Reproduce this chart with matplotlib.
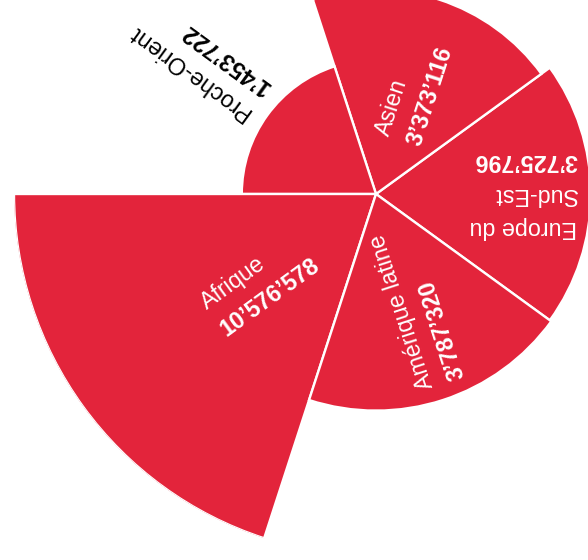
import numpy as np
import matplotlib
matplotlib.use('Agg')
import matplotlib.pyplot as plt

regions = ["Europe du\nSud-Est", "Asien", "Proche-Orient", "Afrique", "Amérique latine"]
values = [3725796, 3373116, 1453722, 10576578, 3787320]
value_labels = ["3’725’796", "3’373’116", "1’453’722", "10’576’578", "3’787’320"]

RED = "#E3243B"
W, H, DPI = 588, 560, 100
cx, cy = 376, 194   # centre in px (from top-left)
R = 362             # px radius of the largest sector

fig = plt.figure(figsize=(W / DPI, H / DPI), dpi=DPI)
ax = fig.add_axes([(cx - R) / W, (H - cy - R) / H, 2 * R / W, 2 * R / H], projection='polar')
n = len(values)
width = 2 * np.pi / n
theta = np.arange(n) * width
radii = np.sqrt(np.array(values, dtype=float))
ax.bar(theta, radii, width=width, bottom=0, color=RED, edgecolor='white',
       linewidth=1.7, align='center')
ax.set_ylim(0, radii.max())
ax.set_axis_off()

rotations = [180, 72, 144, 36, 108]
label_r = [201, 58, 149, 205, 201]
colors = ['white', 'white', 'black', 'white', 'white']
spacing = 33
fs = 23.2 * 72 / DPI

for i in range(n):
    lines = [(l, 'normal') for l in regions[i].split('\n')] + [(value_labels[i], 'bold')]
    m = len(lines)
    shift = -5 if m == 2 else 0
    up = np.deg2rad(rotations[i]) + np.pi / 2
    r_data = label_r[i] / R * radii.max()
    for j, (txt, wt) in enumerate(lines):
        o = ((m - 1) / 2 - j) * spacing + shift
        dx = o * np.cos(up) * 72 / DPI
        dy = o * np.sin(up) * 72 / DPI
        ax.annotate(txt, xy=(theta[i], r_data), xytext=(dx, dy),
                    textcoords='offset points', rotation=rotations[i],
                    rotation_mode='anchor', ha='left', va='center',
                    color=colors[i], fontsize=fs, fontweight=wt,
                    family='Liberation Sans', annotation_clip=False)

fig.savefig('out.png', dpi=DPI)
